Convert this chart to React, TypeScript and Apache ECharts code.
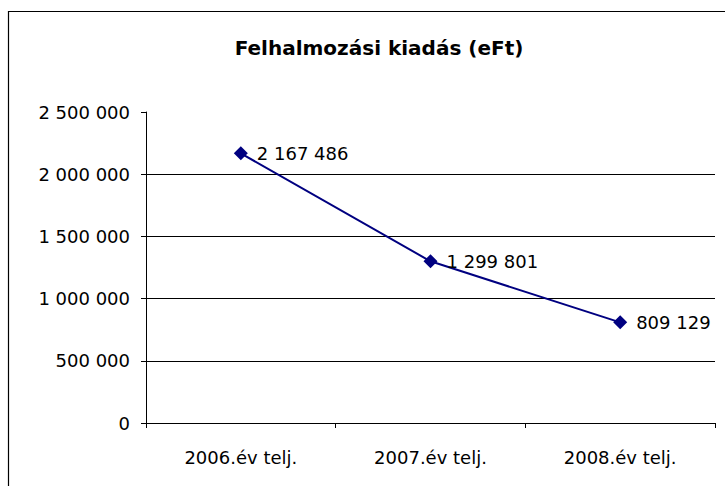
import React, { useEffect, useRef } from "react";
import * as echarts from "echarts";

const categories = ["2006.év telj.", "2007.év telj.", "2008.év telj."];
const values = [2167486, 1299801, 809129];
const titleText = "Felhalmozási kiadás (eFt)";

const FONT = "'DejaVu Sans', 'Liberation Sans', Arial, sans-serif";
const fmt = (v: number) => String(Math.round(v)).replace(/\B(?=(\d{3})+(?!\d))/g, " ");

export default function App() {
  const ref = useRef<HTMLDivElement>(null);
  useEffect(() => {
    document.body.style.margin = "0";
    const chart = echarts.init(ref.current!, null, { renderer: "svg" });
    chart.setOption({
      animation: false,
      backgroundColor: "#ffffff",
      textStyle: { fontFamily: FONT },
      title: {
        text: titleText,
        left: 374,
        top: 33,
        textAlign: "center",
        textStyle: { fontSize: 20, fontWeight: "bold", color: "#000", fontFamily: FONT },
      },
      graphic: [
        {
          type: "rect",
          shape: { x: 8.5, y: 11.5, width: 730, height: 490 },
          style: { fill: "none", stroke: "#000", lineWidth: 1.2 },
          silent: true,
          z: 100,
        },
      ],
      grid: { left: 146, right: 10, top: 112, bottom: 63 },
      xAxis: {
        type: "category",
        data: categories,
        boundaryGap: true,
        axisLine: { lineStyle: { color: "#000", width: 1 } },
        axisTick: { show: true, length: 5, lineStyle: { color: "#000" } },
        axisLabel: { color: "#000", fontSize: 18, margin: 25, fontFamily: FONT },
        splitLine: { show: false },
      },
      yAxis: {
        type: "value",
        min: 0,
        max: 2500000,
        interval: 500000,
        axisLine: { show: true, lineStyle: { color: "#000", width: 1 } },
        axisTick: { show: true, length: 5, lineStyle: { color: "#000" } },
        axisLabel: { color: "#000", fontSize: 18, margin: 16, fontFamily: FONT, formatter: (v: number) => fmt(v) },
        splitLine: { show: true, showMaxLine: false, lineStyle: { color: "#000", width: 1 } },
      },
      series: [
        {
          type: "line",
          data: values,
          symbol: "diamond",
          symbolSize: 14,
          itemStyle: { color: "#000080" },
          lineStyle: { color: "#000080", width: 2 },
          label: {
            show: true,
            position: "right",
            distance: 9,
            color: "#000",
            fontSize: 18,
            fontFamily: FONT,
            formatter: (p: any) => fmt(p.value),
          },
        },
      ],
    });
    return () => chart.dispose();
  }, []);
  return <div ref={ref} style={{ position: "absolute", left: 0, top: 0, width: 725, height: 486 }} />;
}
